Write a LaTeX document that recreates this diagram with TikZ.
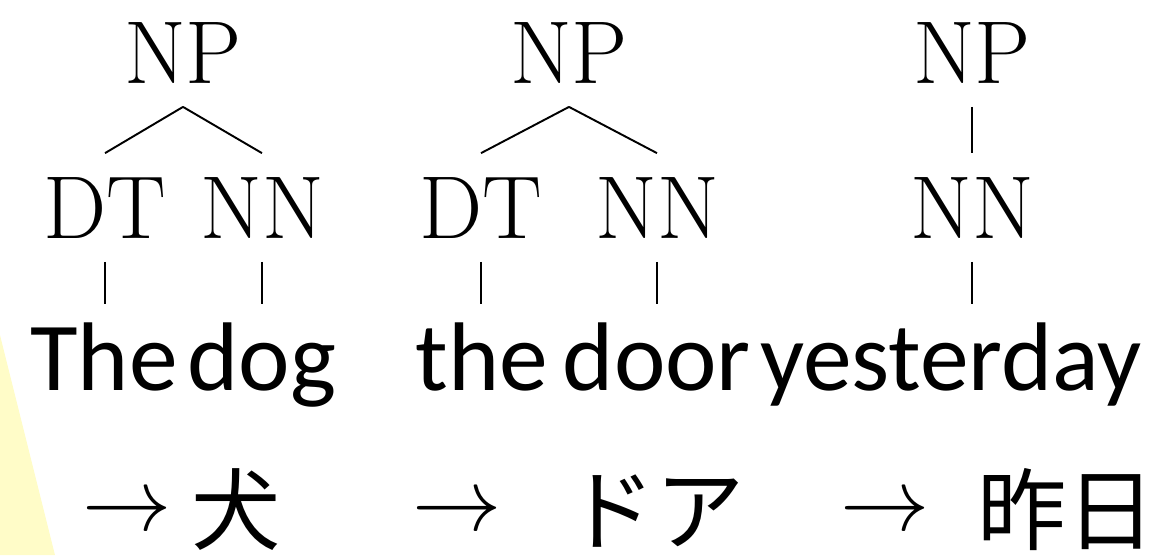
\documentclass[tikz,border=0pt]{standalone}
\usepackage{fix-cm}
\usepackage{fontspec}
\usepackage{tikz}
\usetikzlibrary{positioning, calc}
\newfontfamily\jpfont{Noto Sans CJK JP}
\newfontfamily\wordfont{Carlito}
\definecolor{paleyellow}{RGB}{255,252,200}

\begin{document}
\begin{tikzpicture}[x=0.02cm, y=-0.02cm,
	tag/.style={font=\fontsize{50.8}{60}\selectfont, inner xsep=0pt, inner ysep=13.4pt, text height=34.7pt, text depth=0pt, anchor=base},
	word/.style={font=\wordfont\fontsize{55.5}{66}\selectfont, inner xsep=0pt, inner ysep=13pt, text height=35.7pt, text depth=0pt, anchor=base},
	target/.style={font=\fontsize{50.8}{60}\selectfont, inner sep=0pt, anchor=base},
	jword/.style={font=\jpfont\fontsize{50.8}{60}\selectfont, inner sep=0pt, anchor=base west},
	branch/.style={line width=1.1pt}]
		\useasboundingbox (0,0) rectangle (1176,555);
		\pgfmathsetmacro{\toprow}{83}
		\pgfmathsetmacro{\midrow}{238}
		\pgfmathsetmacro{\wordrow}{390}
		\pgfmathsetmacro{\arrowrow}{530}
		\pgfmathsetmacro{\jprow}{543}
		\fill[paleyellow] (0,335) -- (55,555) -- (0,555) -- cycle;
		
		\node[tag] (np1) at (183,\toprow) {NP};
		\node[tag] (dt1) at (105,\midrow) {DT};
		\node[tag] (nn1) at (262,\midrow) {NN};
		\node[word] (w1a) at (104,\wordrow) {The};
		\node[word] (w1b) at (262,\wordrow) {dog};
		\draw[branch] (np1.south) -- (dt1.north);
		\draw[branch] (np1.south) -- (nn1.north);
		\draw[branch] (dt1.south) -- (dt1.south |- w1a.north);
		\draw[branch] (nn1.south) -- (nn1.south |- w1b.north);
		
		\node[tag] (np2) at (569,\toprow) {NP};
		\node[tag] (dt2) at (481,\midrow) {DT};
		\node[tag] (nn2) at (657,\midrow) {NN};
		\node[word] (w2a) at (482,\wordrow) {the};
		\node[word] (w2b) at (657,\wordrow) {door};
		\draw[branch] (np2.south) -- (dt2.north);
		\draw[branch] (np2.south) -- (nn2.north);
		\draw[branch] (dt2.south) -- (dt2.south |- w2a.north);
		\draw[branch] (nn2.south) -- (nn2.south |- w2b.north);
		
		\node[tag] (np3) at (972,\toprow) {NP};
		\node[tag] (nn3) at (972,\midrow) {NN};
		\node[word] (w3) at (951,\wordrow) {yesterday};
		\draw[branch] (np3.south) -- (nn3.north);
		\draw[branch] (nn3.south) -- (nn3.south |- w3.north);
		
		\node[target] (a1) at (127,\arrowrow) {$\rightarrow$};
		\node[jword] (j1) at (191,\jprow) {犬};
		\node[target] (a2) at (457,\arrowrow) {$\rightarrow$};
		\node[jword] (j2) at (566,\jprow) {ドア};
		\node[target] (a3) at (885,\arrowrow) {$\rightarrow$};
		\node[jword] (j3) at (977,\jprow) {昨日};
\end{tikzpicture}
\end{document}
